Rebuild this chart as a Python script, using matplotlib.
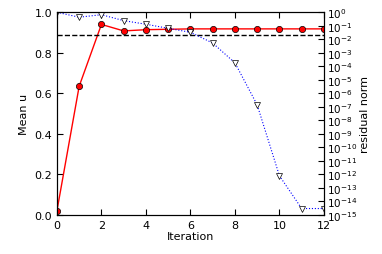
import matplotlib
matplotlib.use("Agg")
import matplotlib.pyplot as plt
from matplotlib.ticker import FixedLocator, LogFormatterMathtext, NullLocator

iterations = [0, 1, 2, 3, 4, 5, 6, 7, 8, 9, 10, 11, 12]
mean_u = [0.02, 0.635, 0.94, 0.908, 0.914, 0.916, 0.918, 0.918, 0.918, 0.918, 0.918, 0.918, 0.918]
residual = [1.0, 0.43, 0.66, 0.24, 0.13, 0.065, 0.033, 5.3e-3, 1.8e-4, 1.4e-7, 7.9e-13, 3e-15, 3e-15]
target_u = 0.888

plt.rcParams["font.size"] = 8
plt.rcParams["xtick.direction"] = "in"
plt.rcParams["ytick.direction"] = "in"

fig = plt.figure(figsize=(3.82, 2.55), dpi=100)
ax = fig.add_axes([0.149, 0.153, 0.699, 0.795])

ax.plot(iterations, mean_u, "-o", color="red", lw=1, ms=4.5, mfc="red", mec="black", mew=0.5)
ax.axhline(target_u, color="black", ls="--", lw=1)
ax.set_xlim(0, 12)
ax.set_ylim(0, 1.0)
ax.set_xlabel("Iteration", labelpad=1)
ax.set_ylabel("Mean u")
ax.tick_params(top=True, length=4)

ax2 = ax.twinx()
ax2.semilogy(iterations, residual, ":v", color="blue", lw=0.8, ms=5, mfc="white", mec="black", mew=0.5)
ax2.set_ylim(1e-15, 1e0)
ax2.yaxis.set_major_locator(FixedLocator([10.0 ** k for k in range(-15, 1)]))
ax2.yaxis.set_major_formatter(LogFormatterMathtext())
ax2.yaxis.set_minor_locator(NullLocator())
ax2.set_ylabel("residual norm", labelpad=2)
ax2.tick_params(length=4, pad=2, labelsize=7.5)
ax2.set_xlim(0, 12)

fig.savefig("out.png", dpi=100)
